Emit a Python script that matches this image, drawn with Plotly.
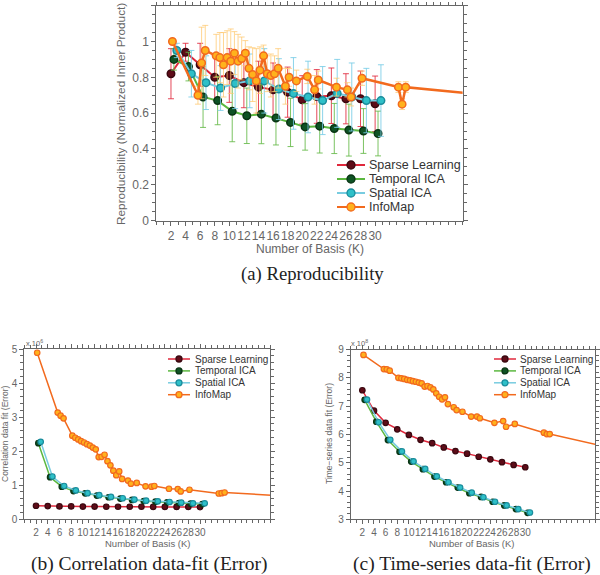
import plotly.graph_objects as go

# ---------------- data ----------------
# (a) Reproducibility
sparse_x = [2, 4, 6, 8, 10, 12, 14, 16, 18, 20, 22, 24, 26, 28, 30]
temporal_x = [2.4, 4.4, 6.4, 8.4, 10.4, 12.4, 14.4, 16.4, 18.4, 20.4, 22.4, 24.4, 26.4, 28.4, 30.4]
spatial_x = [2.8, 4.8, 6.8, 8.8, 10.8, 12.8, 14.8, 16.8, 18.8, 20.8, 22.8, 24.8, 26.8, 28.8, 30.8]
infomap_x = [2.2, 5.7, 6.2, 6.7, 8.2, 8.7, 9.2, 9.7, 10.2, 10.7, 11.2, 11.7, 12.2, 12.7,
             13.2, 13.7, 14.2, 14.7, 15.2, 15.7, 16.2, 16.7, 17.7, 18.2, 19.2, 20.7,
             21.7, 22.2, 24.7, 26.2, 26.7, 28.2, 33.2, 33.7, 34.2, 48]

rep_sparse = [0.82, 0.94, 0.87, 0.80, 0.81, 0.77, 0.745, 0.73, 0.717, 0.674, 0.693, 0.697, 0.68, 0.68, 0.652]
rep_sparse_err = [0.14, 0.05, 0.12, 0.125, 0.15, 0.14, 0.145, 0.15, 0.14, 0.135, 0.15, 0.155, 0.14, 0.155, 0.155]
rep_temporal = [0.90, 0.86, 0.69, 0.67, 0.61, 0.585, 0.594, 0.572, 0.548, 0.523, 0.527, 0.514, 0.505, 0.50, 0.486]
rep_temporal_err = [0.06, 0.08, 0.17, 0.135, 0.17, 0.155, 0.165, 0.15, 0.135, 0.13, 0.15, 0.14, 0.145, 0.125, 0.125]
rep_spatial = [0.95, 0.82, 0.77, 0.74, 0.765, 0.78, 0.78, 0.734, 0.71, 0.69, 0.67, 0.71, 0.69, 0.67, 0.67]
rep_spatial_err = [0.04, 0.13, 0.15, 0.125, 0.14, 0.15, 0.18, 0.17, 0.2, 0.2, 0.19, 0.19, 0.19, 0.18, 0.2]
rep_infomap = [1.0, 0.70, 0.88, 0.95, 0.92, 0.91, 0.87, 0.91, 0.89, 0.935, 0.89, 0.905, 0.935, 0.85,
               0.815, 0.78, 0.84, 0.92, 0.82, 0.81, 0.82, 0.85, 0.75, 0.80, 0.78, 0.805,
               0.73, 0.785, 0.745, 0.73, 0.69, 0.795, 0.745, 0.65, 0.745, 0.69]
rep_infomap_err = [0, 0.05, 0.2, 0.14, 0.12, 0.14, 0.18, 0.15, 0.18, 0.12, 0.15, 0.12, 0.07, 0.12,
                   0.15, 0.18, 0.13, 0.06, 0.1, 0.12, 0.1, 0.11, 0.1, 0.05, 0.06, 0.04,
                   0.08, 0.05, 0.05, 0.04, 0.05, 0.04, 0.03, 0.03, 0.03, 0]

# (b) Correlation data-fit (x 10^6)
corr_sparse = [0.39, 0.38, 0.37, 0.37, 0.365, 0.365, 0.36, 0.36, 0.36, 0.36, 0.355, 0.355, 0.355, 0.355, 0.35]
corr_temporal = [2.23, 1.23, 0.95, 0.82, 0.755, 0.69, 0.64, 0.60, 0.56, 0.53, 0.51, 0.49, 0.47, 0.45, 0.44]
corr_spatial = [2.27, 1.25, 0.97, 0.84, 0.76, 0.70, 0.65, 0.61, 0.57, 0.54, 0.52, 0.50, 0.48, 0.46, 0.46]
corr_infomap = [4.89, 3.13, 3.04, 2.96, 2.45, 2.39, 2.34, 2.29, 2.25, 2.20, 2.16, 2.10, 2.05, 1.82,
                1.83, 1.89, 1.70, 1.58, 1.42, 1.29, 1.40, 1.18, 1.13, 1.04, 1.06, 0.96,
                0.95, 0.97, 0.89, 0.88, 0.81, 0.86, 0.75, 0.76, 0.78, 0.64]

# (c) Time-series data-fit (x 10^8)
ts_sparse = [7.56, 6.84, 6.41, 6.18, 5.98, 5.81, 5.69, 5.54, 5.41, 5.32, 5.21, 5.12, 5.02, 4.92, 4.84]
ts_temporal = [7.22, 6.45, 5.80, 5.39, 5.04, 4.77, 4.51, 4.31, 4.12, 3.92, 3.79, 3.62, 3.49, 3.36, 3.23]
ts_spatial = [7.23, 6.43, 5.81, 5.40, 5.05, 4.78, 4.52, 4.31, 4.12, 3.94, 3.78, 3.62, 3.49, 3.36, 3.24]
ts_infomap = [8.81, 8.31, 8.30, 8.25, 8.00, 7.98, 7.96, 7.93, 7.91, 7.88, 7.86, 7.83, 7.80, 7.69,
              7.71, 7.66, 7.59, 7.45, 7.33, 7.24, 7.31, 7.07, 6.96, 6.86, 6.80, 6.63,
              6.63, 6.57, 6.41, 6.47, 6.27, 6.37, 6.06, 6.01, 6.01, 5.38]

x_ticks = list(range(2, 31, 2))
names = ["Sparse Learning", "Temporal ICA", "Spatial ICA", "InfoMap"]

# ---------------- styles ----------------
line_col = ["#e0283c", "#5cb840", "#78cce0", "#f26a1e"]
mk_fill = ["#5e0c18", "#0e5224", "#2ec0c8", "#ffb21c"]
mk_edge = ["#3a0810", "#0a3414", "#1a8c9c", "#f26a1e"]
err_col = ["rgba(224,40,60,0.85)", "rgba(100,185,70,0.85)", "rgba(120,205,230,0.85)", "rgba(255,200,110,0.75)"]

W, H = 600, 575
FONT = "Liberation Sans, Arial, sans-serif"
SERIF = "Liberation Serif, DejaVu Serif, serif"
GRAY = "#666666"

def fx(px):
    return px / W

def fy(py):
    return 1 - py / H

fig = go.Figure()

def add_series(x, y, i, xa, ya, msize, mlw, lw, err=None):
    tr = dict(
        x=x, y=y, name=names[i], mode="lines+markers", xaxis=xa, yaxis=ya, showlegend=False,
        line=dict(color=line_col[i], width=lw),
        marker=dict(size=msize, color=mk_fill[i], line=dict(color=mk_edge[i], width=mlw)),
    )
    if err is not None:
        tr["error_y"] = dict(type="data", array=err, visible=True, color=err_col[i],
                             thickness=1, width=3)
    fig.add_trace(go.Scatter(**tr))

# (a)
add_series(sparse_x, rep_sparse, 0, "x", "y", 7.5, 1.5, 2, rep_sparse_err)
add_series(temporal_x, rep_temporal, 1, "x", "y", 7.5, 1.5, 2, rep_temporal_err)
add_series(spatial_x, rep_spatial, 2, "x", "y", 7.5, 1.5, 2, rep_spatial_err)
add_series(infomap_x, rep_infomap, 3, "x", "y", 7.5, 1.5, 2.5, rep_infomap_err)
# (b)
add_series(sparse_x, corr_sparse, 0, "x2", "y2", 5.5, 1.2, 1.5)
add_series(temporal_x, corr_temporal, 1, "x2", "y2", 5.5, 1.2, 1.5)
add_series(spatial_x, corr_spatial, 2, "x2", "y2", 5.5, 1.2, 1.5)
add_series(infomap_x, corr_infomap, 3, "x2", "y2", 5.5, 1.2, 1.5)
# (c)
add_series(sparse_x, ts_sparse, 0, "x3", "y3", 5.5, 1.2, 1.5)
add_series(temporal_x, ts_temporal, 1, "x3", "y3", 5.5, 1.2, 1.5)
add_series(spatial_x, ts_spatial, 2, "x3", "y3", 5.5, 1.2, 1.5)
add_series(infomap_x, ts_infomap, 3, "x3", "y3", 5.5, 1.2, 1.5)

def xaxis(domain, anchor, fsize):
    return dict(domain=domain, anchor=anchor, range=[0, 42], tickmode="array", tickvals=x_ticks,
                tickangle=0,
                showline=True, linecolor=GRAY, linewidth=1, mirror="allticks",
                ticks="outside", ticklen=4, tickcolor=GRAY, showgrid=False, zeroline=False,
                tickfont=dict(family=FONT, size=fsize, color=GRAY),
                minor=dict(ticks="outside", ticklen=3, tickcolor=GRAY, tickmode="linear",
                           tick0=0, dtick=1, showgrid=False))

def yaxis(domain, anchor, rng, dtick, mdtick, fsize):
    return dict(domain=domain, anchor=anchor, range=rng, tickmode="linear", tick0=rng[0], dtick=dtick,
                showline=True, linecolor=GRAY, linewidth=1, mirror="allticks",
                ticks="outside", ticklen=4, tickcolor=GRAY, showgrid=False, zeroline=False,
                tickfont=dict(family=FONT, size=fsize, color=GRAY),
                minor=dict(ticks="outside", ticklen=3, tickcolor=GRAY, tickmode="linear",
                           tick0=rng[0], dtick=mdtick, showgrid=False))

anns = []
shapes = []

def text(s, x, y, size, family=FONT, color=GRAY, angle=0, anchor="center"):
    anns.append(dict(text=s, x=fx(x), y=fy(y), xref="paper", yref="paper", showarrow=False,
                     xanchor=anchor, yanchor="middle", textangle=angle,
                     font=dict(family=family, size=size, color=color)))

def legend_box(x0, x1, xtext, y0, dy, r, fsize, lw):
    for i, nm in enumerate(names):
        y = y0 + i * dy
        shapes.append(dict(type="line", xref="paper", yref="paper",
                           x0=fx(x0), x1=fx(x1), y0=fy(y), y1=fy(y),
                           line=dict(color=line_col[i], width=lw)))
        xc = (x0 + x1) / 2
        shapes.append(dict(type="circle", xref="paper", yref="paper",
                           x0=fx(xc - r), x1=fx(xc + r), y0=fy(y + r), y1=fy(y - r),
                           fillcolor=mk_fill[i], line=dict(color=mk_edge[i], width=1.3)))
        text(nm, xtext, y, fsize, color="#333333", anchor="left")

legend_box(337, 365, 367, 165, 14, 4, 12.5, 2)
legend_box(168, 190, 193, 359, 11.9, 3, 10, 1.5)
legend_box(494, 516, 518, 359, 11.9, 3, 10, 1.5)

text("Number of Basis (K)", 310, 249, 12)
text("Reproducibility (Normalized Inner Product)", 121, 114, 11.8, angle=-90)
text("(a) Reproducibility", 312, 274, 18.7, family=SERIF, color="#222222")

text("Number of Basis (K)", 148, 543, 9.5)
text("Correlation data fit (Error)", 5, 434, 8.5, angle=-90)
text("x 10<sup>6</sup>", 34, 343, 7.5)
text("(b) Correlation data-fit (Error)", 149, 564, 19.5, family=SERIF, color="#222222")

text("Number of Basis (K)", 472, 543, 9.5)
text("Time−series data fit (Error)", 329, 434, 8.5, angle=-90)
text("x 10<sup>8</sup>", 359, 343, 7.5)
text("(c) Time-series data-fit (Error)", 472, 564, 19.5, family=SERIF, color="#222222")

fig.update_layout(
    width=W, height=H, template="none",
    margin=dict(l=0, r=0, t=0, b=0),
    paper_bgcolor="white", plot_bgcolor="white",
    showlegend=False,
    xaxis=xaxis([fx(156.4), fx(462.6)], "y", 12),
    yaxis=yaxis([fy(220.5), fy(5.7)], "x", [0, 1.2], 0.2, 0.05, 12),
    xaxis2=xaxis([fx(24.3), fx(270.3)], "y2", 10),
    yaxis2=yaxis([fy(519), fy(349)], "x2", [0, 5], 1, 0.2, 10),
    xaxis3=xaxis([fx(350.7), fx(595.1)], "y3", 10),
    yaxis3=yaxis([fy(519.3), fy(349.5)], "x3", [3, 9], 1, 0.2, 10),
    annotations=anns,
    shapes=shapes,
)

# the page's default 8px body margin would shift the figure; remove it
fig.write_html("out.html", config={"displayModeBar": False},
               post_script="document.body.style.margin='0';")
